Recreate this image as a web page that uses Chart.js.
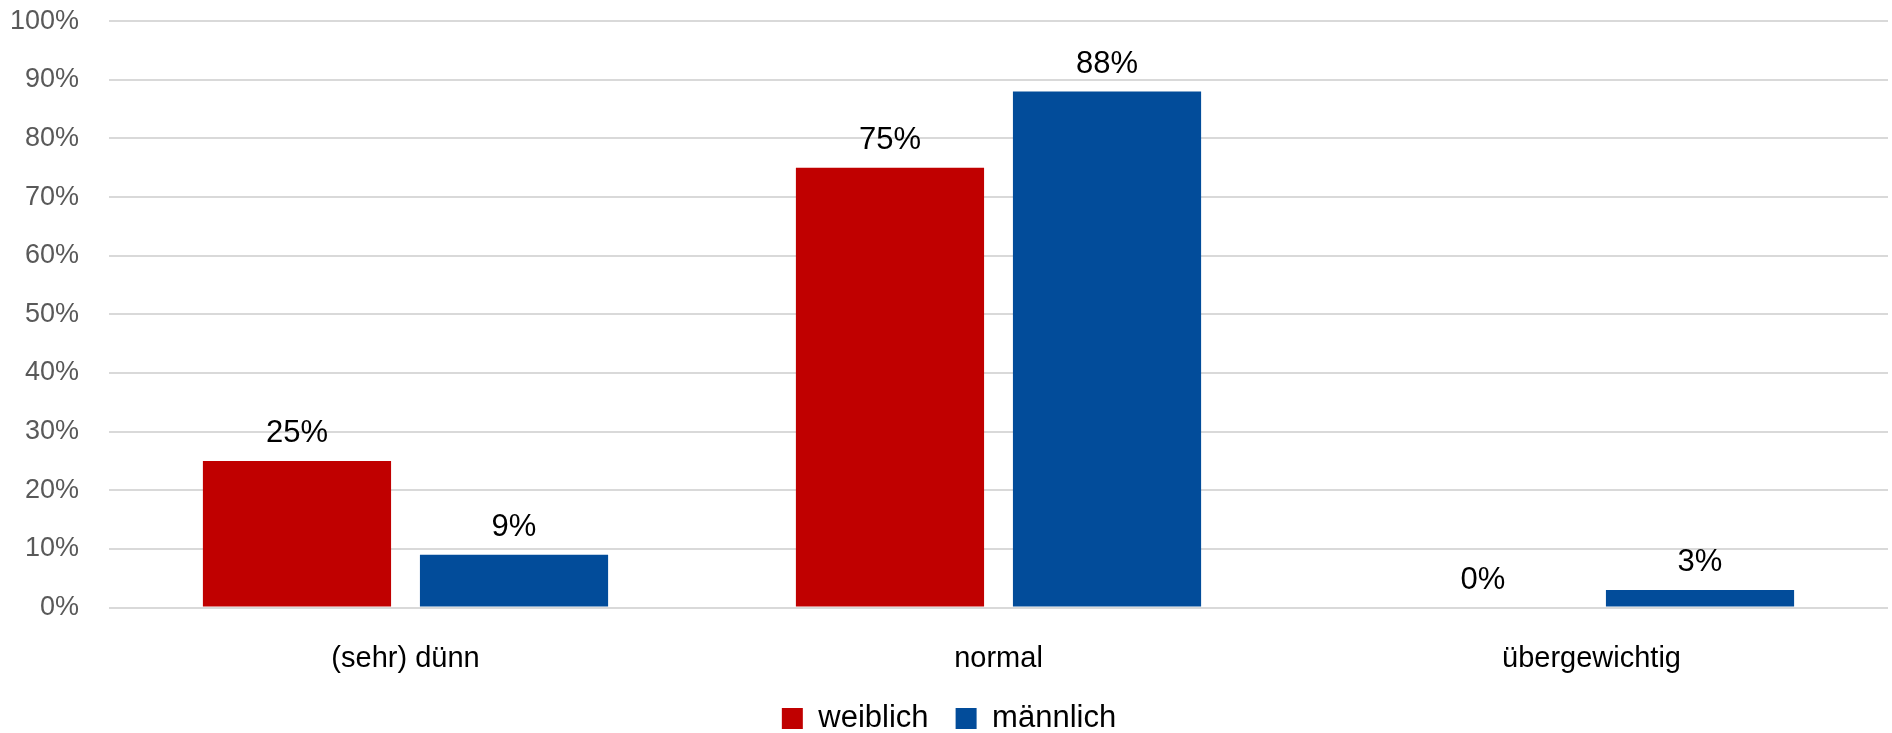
<!DOCTYPE html>
<html>
<head>
<meta charset="utf-8">
<script src="https://cdn.jsdelivr.net/npm/chart.js@4"></script>
<style>
  html, body { margin: 0; padding: 0; background: #fff; overflow: hidden; }
  #wrap { width: 1892px; height: 744px; }
</style>
</head>
<body>
<div id="wrap"><canvas id="chart"></canvas></div>
<script>
// Daten
const categories = ['(sehr) dünn', 'normal', 'übergewichtig'];
const weiblich = [25, 75, 0];
const maennlich = [9, 88, 3];
const yTicks = [0, 10, 20, 30, 40, 50, 60, 70, 80, 90, 100];

const FONT = "'Liberation Sans', Arial, sans-serif";

// Werte über den Balken
const valueLabels = {
    id: 'valueLabels',
    afterDatasetsDraw(chart) {
        const ctx = chart.ctx;
        ctx.save();
        ctx.font = '31px ' + FONT;
        ctx.fillStyle = '#000';
        ctx.textAlign = 'center';
        ctx.textBaseline = 'alphabetic';
        chart.data.datasets.forEach((ds, i) => {
            chart.getDatasetMeta(i).data.forEach((bar, j) => {
                ctx.fillText(ds.data[j] + '%', bar.x, bar.y - 19);
            });
        });
        ctx.restore();
    }
};

new Chart(document.getElementById('chart'), {
    type: 'bar',
    data: {
        labels: categories,
        datasets: [
            { label: 'weiblich', data: weiblich, backgroundColor: '#C00000', categoryPercentage: 0.732, barPercentage: 0.867 },
            { label: 'männlich', data: maennlich, backgroundColor: '#024C9A', categoryPercentage: 0.732, barPercentage: 0.867 }
        ]
    },
    options: {
        responsive: true, maintainAspectRatio: false, animation: false,
        layout: { padding: { top: 3, right: 4, left: 10, bottom: 0 } },
        scales: {
            x: {
                grid: { display: false, drawTicks: false },
                border: { display: false },
                ticks: { color: '#000', font: { family: FONT, size: 29 }, padding: 34 },
                afterFit: s => { s.height = 68.5; }
            },
            y: {
                min: 0, max: 100,
                afterBuildTicks: axis => { axis.ticks = yTicks.map(v => ({ value: v })); },
                grid: { color: '#D9D9D9', lineWidth: 2, drawTicks: true, tickLength: 25, tickColor: 'rgba(0,0,0,0)' },
                border: { display: false },
                ticks: { color: '#595959', font: { family: FONT, size: 27 }, padding: 5, callback: v => v + '%' },
                afterFit: s => { s.width = 99; }
            }
        },
        plugins: {
            legend: {
                position: 'bottom',
                labels: { color: '#000', font: { family: FONT, size: 31 }, boxWidth: 21, boxHeight: 21, padding: 27 }
            },
            tooltip: { enabled: false }
        }
    },
    plugins: [valueLabels]
});
</script>
</body>
</html>
